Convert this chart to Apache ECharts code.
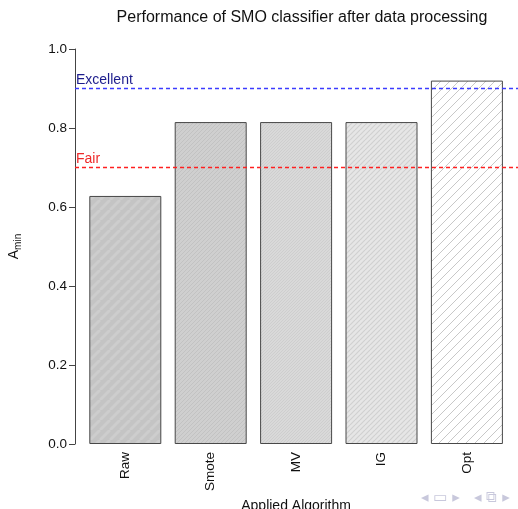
<!DOCTYPE html>
<html style="height: 100%">
<head>
	<meta charset="utf-8">
	<script type="text/javascript" src="https://cdn.jsdelivr.net/npm/echarts@6/dist/echarts.min.js"></script>
</head>
<body style="height: 100%; margin: 0; background: #fff">
	<div id="container" style="width:518px; height:509px"></div>
	<script>
	// data
	var algorithms = ['Raw', 'Smote', 'MV', 'IG', 'Opt'];
	var amin = [0.628, 0.815, 0.815, 0.815, 0.92];
	var yTicks = [0, 0.2, 0.4, 0.6, 0.8, 1.0];
	var refLevels = [0.9, 0.7];
	var refNames = ['Excellent', 'Fair'];
	var refColors = ['#3c3cff', '#ff2020'];
	var refTextColors = ['#1c1c8c', '#ee2a2a'];

	// hatch fill for each bar
	function hatch(bg, fg, step, lw) {
		var c = document.createElement('canvas');
		c.width = step; c.height = step;
		var ctx = c.getContext('2d');
		ctx.fillStyle = bg;
		ctx.fillRect(0, 0, step, step);
		ctx.strokeStyle = fg;
		ctx.lineWidth = lw;
		for (var k = -1; k <= 1; k++) {
			ctx.beginPath();
			ctx.moveTo(k * step, step);
			ctx.lineTo(k * step + step, 0);
			ctx.stroke();
		}
		return {image: c, repeat: 'repeat'};
	}
	var fills = [
		hatch('#c4c4c4', '#cdcdcd', 10, 3),
		hatch('#cfcfcf', '#c2c2c2', 4, 1),
		hatch('#d9d9d9', '#cecece', 3, 1),
		hatch('#e6e6e6', '#d0d0d0', 5, 1.2),
		hatch('#ffffff', '#c8c8c8', 9, 1)
	];

	var myChart = echarts.init(document.getElementById('container'));
	var font = 'Liberation Sans, Arial, sans-serif';

	var refSeries = refLevels.map(function (lv, i) {
		return {
			type: 'line', xAxisIndex: 1, yAxisIndex: 1, data: [[0, 0]],
			showSymbol: false, silent: true, lineStyle: {opacity: 0},
			markLine: {
				symbol: 'none', silent: true,
				lineStyle: {color: refColors[i], type: [4, 3], width: 1.4, opacity: 1},
				label: {formatter: refNames[i], position: 'insideStartTop', distance: [1, 1],
					color: refTextColors[i], fontSize: 14, fontFamily: font},
				data: [{yAxis: lv}]
			}
		};
	});

	var option = {
		animation: false,
		title: {
			text: 'Performance of SMO classifier after data processing',
			left: 297,
			textAlign: 'center',
			top: 5,
			textStyle: {fontSize: 16, fontWeight: 'normal', color: '#111', fontFamily: font}
		},
		grid: [
			{left: 82.6, right: 8.4, top: 49, bottom: 65, outerBoundsMode: 'none'},
			{left: 75, right: 0, top: 49, bottom: 65, outerBoundsMode: 'none'}
		],
		xAxis: [
			{
				type: 'category', gridIndex: 0, data: algorithms,
				axisLine: {show: false}, axisTick: {show: false},
				axisLabel: {rotate: 90, margin: 8, fontSize: 13.5, color: '#111', fontFamily: font},
				name: 'Applied Algorithm', nameLocation: 'middle', nameGap: 48,
				nameTextStyle: {fontSize: 14, color: '#111', fontFamily: font}
			},
			{type: 'value', gridIndex: 1, min: 0, max: 1, show: false}
		],
		yAxis: [
			{type: 'value', gridIndex: 0, min: 0, max: 1, show: false},
			{
				type: 'value', gridIndex: 1, min: 0, max: 1, interval: 0.2,
				axisLine: {show: true, lineStyle: {color: '#444'}},
				axisTick: {show: true, length: 6, lineStyle: {color: '#444'}},
				splitLine: {show: false},
				axisLabel: {
					fontSize: 13.5, color: '#111', fontFamily: font, margin: 8,
					formatter: function (v) { return v.toFixed(1); }
				},
				name: '{a|A}{s|min}', nameLocation: 'middle', nameGap: 52,
				nameTextStyle: {
					rich: {
						a: {fontSize: 14, color: '#111', fontFamily: font},
						s: {fontSize: 10, color: '#111', fontFamily: font, verticalAlign: 'bottom', padding: [7, 0, 0, 0]}
					}
				}
			}
		],
		series: [
			{
				type: 'bar', xAxisIndex: 0, yAxisIndex: 0, barWidth: 72,
				data: amin.map(function (v, i) {
					return {value: v, itemStyle: {color: fills[i]}};
				}),
				itemStyle: {borderColor: '#484848', borderWidth: 1}
			}
		].concat(refSeries),
		graphic: [
			{
				type: 'text', left: 421, top: 491,
				style: {text: '◂ ▭ ▸   ◂ ⧉ ▸', fill: '#c8c8dc', fontSize: 15, fontFamily: 'DejaVu Sans'}
			}
		]
	};
	myChart.setOption(option);
	</script>
</body>
</html>
